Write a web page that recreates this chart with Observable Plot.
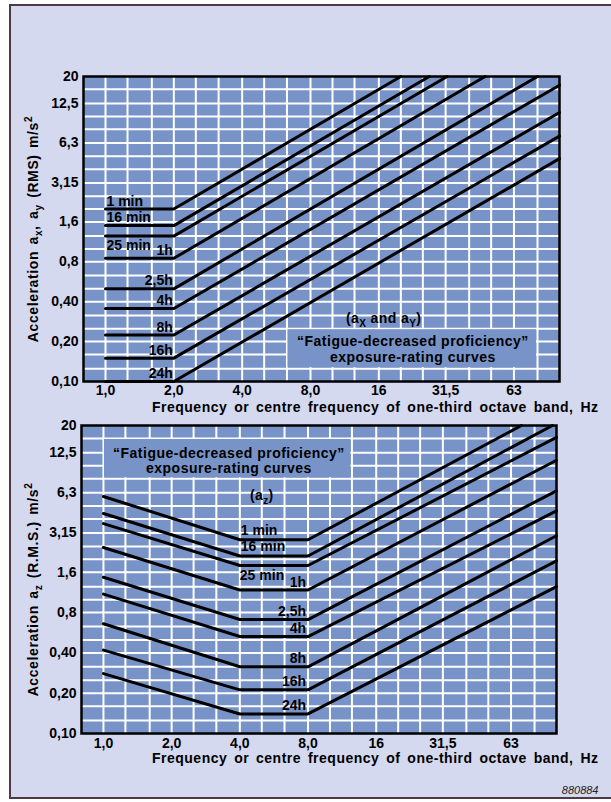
<!DOCTYPE html>
<html><head><meta charset="utf-8">
<script src="https://cdn.jsdelivr.net/npm/d3@7"></script>
<script src="https://cdn.jsdelivr.net/npm/@observablehq/plot@0.6"></script>
<style>
html,body{margin:0;padding:0;background:#fff;width:611px;height:802px;overflow:hidden;position:relative;}
#page{position:absolute;left:9px;top:4px;width:640px;height:791px;border:2px solid #4d3a44;background:#d5d9ef;}
#top,#bot{position:absolute;left:0;}
#top{top:0}
#bot{top:415px}
</style></head><body>
<div id="page"></div>
<div id="top"></div><div id="bot"></div>
<script>
// ---- data ----
const freqTicks = [1, 2, 4, 8, 16, 31.5, 63];
const freqTickLabels = ["1,0", "2,0", "4,0", "8,0", "16", "31,5", "63"];
const accTicks = [0.1, 0.2, 0.4, 0.8, 1.6, 3.15, 6.3, 12.5, 20];
const accTickLabels = ["0,10", "0,20", "0,40", "0,8", "1,6", "3,15", "6,3", "12,5", "20"];
const freqGrid = [1, 1.25, 1.6, 2, 2.5, 3.15, 4, 5, 6.3, 8, 10, 12.5, 16, 20, 25, 31.5, 40, 50, 63, 80];
const accGrid = [0.125, 0.16, 0.2, 0.25, 0.315, 0.4, 0.5, 0.63, 0.8, 1, 1.25, 1.6, 2, 2.5, 3.15, 4, 5, 6.3, 8, 10, 12.5, 16];
const durations = ["1 min", "16 min", "25 min", "1h", "2,5h", "4h", "8h", "16h", "24h"];

// horizontal vibration (ax, ay): [frequency Hz, acceleration m/s2]
const horizCurves = [
  [[1, 2.0], [2, 2.0], [20, 20]],
  [[1, 1.5], [2, 1.5], [26.7, 20]],
  [[1, 1.25], [2, 1.25], [32, 20]],
  [[1, 0.85], [2, 0.85], [47, 20]],
  [[1, 0.5], [2, 0.5], [80, 20]],
  [[1, 0.355], [2, 0.355], [100, 17.2]],
  [[1, 0.224], [2, 0.224], [100, 10.7]],
  [[1, 0.15], [2, 0.15], [100, 7.1]],
  [[1, 0.1], [2, 0.1], [100, 4.8]]
];
// vertical vibration (az)
const vertCurves = [
  [[1, 5.9], [4, 2.8], [8, 2.8], [70, 20]],
  [[1, 4.4], [4, 2.12], [8, 2.12], [96, 20]],
  [[1, 3.7], [4, 1.8], [8, 1.8], [100, 16.3]],
  [[1, 2.45], [4, 1.18], [8, 1.18], [100, 11]],
  [[1, 1.47], [4, 0.71], [8, 0.71], [100, 6.5]],
  [[1, 1.1], [4, 0.53], [8, 0.53], [100, 4.6]],
  [[1, 0.66], [4, 0.315], [8, 0.315], [100, 3.0]],
  [[1, 0.42], [4, 0.212], [8, 0.212], [100, 1.95]],
  [[1, 0.28], [4, 0.14], [8, 0.14], [100, 1.25]]
];
const labelsAbove = ["1 min", "16 min"];
const labelsBelow = ["25 min"];
const labelsRight = ["1h", "2,5h", "4h", "8h", "16h", "24h"];
const xTitle = "Frequency or centre frequency of one-third octave band, Hz";
const yTitleTop = "Acceleration a_x, a_y (RMS) m/s^2";
const yTitleBot = "Acceleration a_z (R.M.S.) m/s^2";
const noteTitle = "\u201CFatigue-decreased proficiency\u201D\nexposure-rating curves";
const noteTop = "(a_X and a_Y)";
const noteBot = "(a_z)";
const caption = "880884";
// annotation anchors in data units [freq, acc]
const topNoteAt = [16.8, 0.3];
const topTitleAt = [22.6, 0.176];
const topBox = {x1: 6.3, x2: 80, y1: 0.125, y2: 0.25};
const botTitleAt = [3.58, 10.9];
const botNoteAt = [5.0, 6.0];
const botBox = {x1: 1, x2: 12.5, y1: 8, y2: 16};

// ---- styling ----
const plotBlue = "#7893c7";
const font = '"Liberation Sans", Arial, Helvetica, sans-serif';
const style = {background: "transparent", fontFamily: font, fontSize: "14px", fontWeight: "bold", color: "black", overflow: "visible"};

function rows(curves) {
  return curves.flatMap((pts, i) => pts.map(([f, a]) => ({f, a, name: durations[i]})));
}
function level(curves, name) { return curves[durations.indexOf(name)][0][1]; }
function plateau(curves, name) { return curves[durations.indexOf(name)][1][1]; }

const xScale = {type: "log", domain: [0.8, 100], axis: null};
const yScale = {type: "log", domain: [0.1, 20], axis: null};

function styleTexts(svg) {
  svg.querySelectorAll("text").forEach(t => {
    const s = t.textContent;
    if (s.startsWith("Frequency")) { t.style.letterSpacing = "0.5px"; t.style.wordSpacing = "2.5px"; }
    else if (s.startsWith("Acceleration")) { t.style.letterSpacing = "0.6px"; t.style.wordSpacing = "2px"; }
    else if (s.includes("Fatigue")) { t.style.letterSpacing = "0.5px"; }
    else if (s.startsWith("(a")) { t.style.letterSpacing = "0.4px"; }
  });
}
function richify(svg) {
  svg.querySelectorAll("text").forEach(t => {
    const s = t.textContent;
    if (!/[_^]/.test(s) || t.querySelector("tspan")) return;
    t.textContent = "";
    let shift = 0;
    for (const p of s.split(/([_^].)/)) {
      if (!p) continue;
      const ts = document.createElementNS("http://www.w3.org/2000/svg", "tspan");
      if (p[0] === "_") { ts.textContent = p[1]; ts.setAttribute("font-size", "10"); ts.setAttribute("dy", 4 - shift); shift = 4; }
      else if (p[0] === "^") { ts.textContent = p[1]; ts.setAttribute("font-size", "10"); ts.setAttribute("dy", -6 - shift); shift = -6; }
      else { ts.textContent = p; if (shift) ts.setAttribute("dy", -shift); shift = 0; }
      t.appendChild(ts);
    }
  });
}

function baseMarks(box, curves) {
  return [
    Plot.frame({fill: plotBlue}),
    Plot.ruleX(freqGrid, {stroke: "white", strokeWidth: 2}),
    Plot.ruleY(accGrid, {stroke: "white", strokeWidth: 2}),
    Plot.rect([box], {x1: "x1", x2: "x2", y1: "y1", y2: "y2", fill: plotBlue, inset: 1}),
    Plot.line(rows(curves), {x: "f", y: "a", z: "name", stroke: "black", strokeWidth: 3}),
    Plot.frame({stroke: "black", strokeWidth: 2.5}),
    Plot.text(accTicks, {y: d => d, text: (d, i) => accTickLabels[i], frameAnchor: "left", textAnchor: "end", lineAnchor: "middle", dx: -5})
  ];
}

const topPlot = Plot.plot({
  width: 611, height: 415,
  marginTop: 76, marginBottom: 34, marginLeft: 83, marginRight: 52,
  x: xScale, y: yScale, style,
  marks: [
    ...baseMarks(topBox, horizCurves),
    Plot.text(freqTicks, {x: d => d, text: (d, i) => freqTickLabels[i], frameAnchor: "bottom", lineAnchor: "middle", dy: 9}),
    Plot.text(labelsAbove, {x: () => 1, y: d => level(horizCurves, d), text: d => d, textAnchor: "start", dx: 1, dy: -8}),
    Plot.text(labelsBelow, {x: () => 1, y: d => level(horizCurves, d), text: d => d, textAnchor: "start", dx: 1, dy: 9}),
    Plot.text(labelsRight, {x: () => 2, y: d => level(horizCurves, d), text: d => d, textAnchor: "end", dx: -1, dy: -8}),
    Plot.text([noteTop], {x: () => topNoteAt[0], y: () => topNoteAt[1], text: d => d}),
    Plot.text([noteTitle], {x: () => topTitleAt[0], y: () => topTitleAt[1], text: d => d, lineHeight: 1.1}),
    Plot.text([xTitle], {frameAnchor: "bottom-right", text: d => d, textAnchor: "end", lineAnchor: "middle", dx: 39, dy: 26}),
    Plot.text([yTitleTop], {frameAnchor: "left", text: d => d, rotate: -90, textAnchor: "middle", lineAnchor: "middle", dx: -50, dy: 0})
  ]
});

const botPlot = Plot.plot({
  width: 611, height: 387,
  marginTop: 10, marginBottom: 69, marginLeft: 81, marginRight: 55,
  x: xScale, y: yScale, style,
  marks: [
    ...baseMarks(botBox, vertCurves),
    Plot.text(freqTicks, {x: d => d, text: (d, i) => freqTickLabels[i], frameAnchor: "bottom", lineAnchor: "middle", dy: 10}),
    Plot.text(labelsAbove, {x: () => 4, y: d => plateau(vertCurves, d), text: d => d, textAnchor: "start", dx: 1, dy: -9}),
    Plot.text(labelsBelow, {x: () => 4, y: d => plateau(vertCurves, d), text: d => d, textAnchor: "start", dx: 0, dy: 10}),
    Plot.text(labelsRight, {x: () => 8, y: d => plateau(vertCurves, d), text: d => d, textAnchor: "end", dx: -2, dy: -8}),
    Plot.text([noteBot], {x: () => botNoteAt[0], y: () => botNoteAt[1], text: d => d}),
    Plot.text([noteTitle], {x: () => botTitleAt[0], y: () => botTitleAt[1], text: d => d, lineHeight: 1.1}),
    Plot.text([xTitle], {frameAnchor: "bottom-right", text: d => d, textAnchor: "end", lineAnchor: "middle", dx: 42, dy: 25}),
    Plot.text([yTitleBot], {frameAnchor: "left", text: d => d, rotate: -90, textAnchor: "middle", lineAnchor: "middle", dx: -48, dy: 10}),
    Plot.text([caption], {frameAnchor: "bottom-right", text: d => d, textAnchor: "end", lineAnchor: "middle", dx: 42, dy: 57, fontStyle: "italic", fontWeight: "normal", fontSize: 11, fill: "#222"})
  ]
});

for (const svg of [topPlot, botPlot]) { styleTexts(svg); richify(svg); }
document.getElementById("top").appendChild(topPlot);
document.getElementById("bot").appendChild(botPlot);
</script>
</body></html>
